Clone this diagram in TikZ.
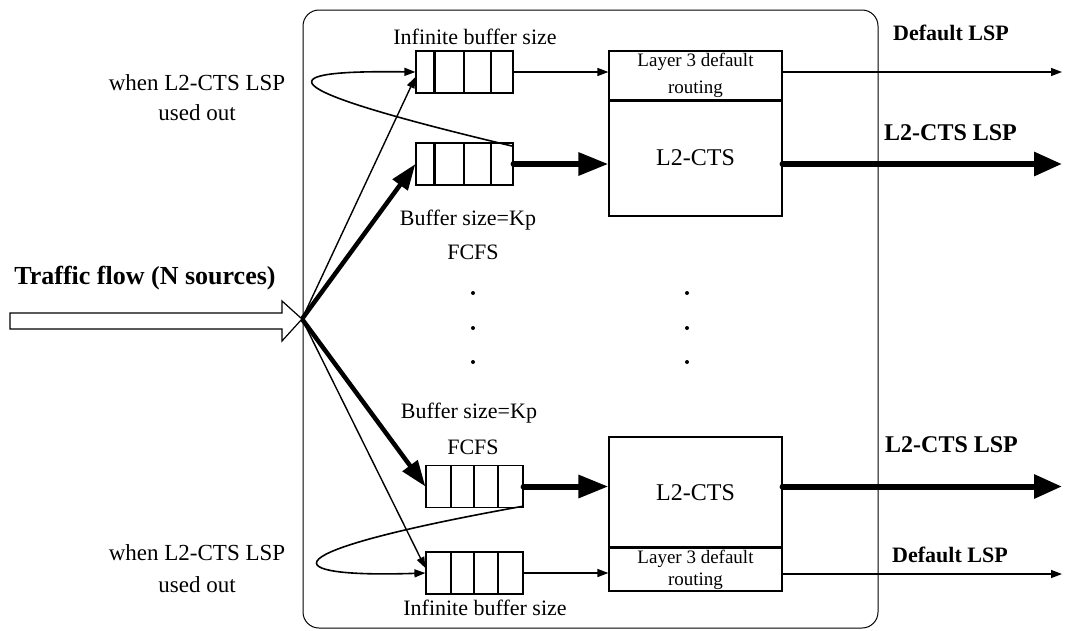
\documentclass[tikz,border=0pt]{standalone}
\usepackage{fontspec}
\setmainfont{Liberation Serif}
\usetikzlibrary{arrows.meta,calc}
\begin{document}
\begin{tikzpicture}[x=1pt,y=-1pt,
  txt/.style={font=\fontsize{22}{30}\selectfont, inner sep=0pt, align=center},
  btxt/.style={font=\fontsize{22}{28}\selectfont\bfseries, inner sep=0pt, anchor=west},
  buf/.style={draw, line width=1.2pt, minimum width=97pt, minimum height=42pt, inner sep=0pt},
  l3box/.style={draw, line width=1.2pt, minimum width=173pt, inner sep=0pt, align=center,
     font=\fontsize{19}{27}\selectfont},
  ctsbox/.style={draw, line width=1.2pt, minimum width=173pt, inner sep=0pt,
     font=\fontsize{24}{28}\selectfont},
  thinarr/.style={line width=1.4pt, -{Triangle[length=11pt,width=8pt]}},
  thickarr/.style={line width=6pt, line cap=round, -{Triangle[length=30pt,width=22pt]}},
  fanthick/.style={line width=4.5pt, -{Triangle[length=26pt,width=18pt]}},
  loop/.style={line width=1.6pt, -{Triangle[length=11pt,width=8pt]}},
  divider/.style={line width=1.8pt}
]
\useasboundingbox (0,0) rectangle (1067,630);

% frame
\node[draw, line width=1pt, rounded corners=16pt, minimum width=575pt, minimum height=618pt, inner sep=0pt] (frame) at (590.5,319) {};

% hollow input arrow
\draw[line width=1.2pt, fill=white] (10,313) -- (282,313) -- (282,301) -- (302,319) -- (282,341) -- (282,329) -- (10,329) -- cycle;
\coordinate (src) at (302,319);
\node[txt, font=\fontsize{26}{30}\selectfont\bfseries] (traffic) at (145,278) {Traffic flow (N sources)};

% buffers
\node[buf] (b1) at (464.5,72) {};
\node[buf] (b2) at (464.5,164) {};
\node[buf] (b3) at (474.5,486.5) {};
\node[buf] (b4) at (474.5,573) {};
\draw[line width=2.6pt] ($(b1.north west)!0.196!(b1.north east)$) -- ($(b1.south west)!0.196!(b1.south east)$);
\draw[line width=2.6pt] ($(b2.north west)!0.196!(b2.north east)$) -- ($(b2.south west)!0.196!(b2.south east)$);
\foreach \b in {b1,b2}{
  \foreach \f in {0.495,0.773}{
    \draw[divider] ($(\b.north west)!\f!(\b.north east)$) -- ($(\b.south west)!\f!(\b.south east)$);
  }
}
\foreach \b in {b3,b4}{
  \foreach \f in {0.258,0.495,0.742}{
    \draw[divider] ($(\b.north west)!\f!(\b.north east)$) -- ($(\b.south west)!\f!(\b.south east)$);
  }
}

% buffer labels
\node[txt] (inf1) at (475,37) {Infinite buffer size};
\node[txt] (kp1) at (468,220) {Buffer size=Kp};
\node[txt] (fc1) at (473,252) {FCFS};
\node[txt] (kp2) at (469,413) {Buffer size=Kp};
\node[txt] (fc2) at (473,447) {FCFS};
\node[txt] (inf2) at (485,608) {Infinite buffer size};

% routing boxes
\node[l3box, minimum height=49pt] (l3a) at (695.5,75.5) {Layer 3 default\\routing};
\node[ctsbox, minimum height=116pt] (cts1) at (695.5,158) {L2-CTS};
\node[ctsbox, minimum height=111pt] (cts2) at (695.5,492.5) {L2-CTS};
\node[l3box, minimum height=43pt, font=\fontsize{19}{22}\selectfont] (l3b) at (695.5,569.5) {Layer 3 default\\routing};
\draw[line width=2pt] (l3a.south west) -- (l3a.south east);
\draw[line width=2pt] (l3b.north west) -- (l3b.north east);

% buffer to box arrows
\draw[thinarr] (b1.east) -- (b1.east -| l3a.west);
\draw[thickarr] (b2.east) -- (b2.east -| cts1.west);
\draw[thickarr] (b3.east) -- (b3.east -| cts2.west);
\draw[thinarr] (b4.east) -- (b4.east -| l3b.west);

% outputs
\coordinate (o1) at (1062,72);
\coordinate (o2) at (1062,164);
\coordinate (o3) at (1062,486.5);
\coordinate (o4) at (1062,574);
\draw[thinarr] (o1 -| l3a.east) -- (o1);
\draw[thickarr, -{Triangle[length=28pt,width=23pt]}] (o2 -| cts1.east) -- (o2);
\draw[thickarr, -{Triangle[length=28pt,width=23pt]}] (o3 -| cts2.east) -- (o3);
\draw[thinarr] (o4 -| l3b.east) -- (o4);

\node[btxt] (d1) at (893,33) {Default LSP};
\node[btxt, font=\fontsize{24}{28}\selectfont\bfseries] (c1) at (884,133) {L2-CTS LSP};
\node[btxt, font=\fontsize{24}{28}\selectfont\bfseries] (c2) at (885,445) {L2-CTS LSP};
\node[btxt] (d2) at (892,555) {Default LSP};

% fan out
\draw[thinarr] (src) -- ([yshift=-5pt]b1.west);
\draw[fanthick] (src) -- (b2.west);
\draw[fanthick] (src) -- (b3.west);
\draw[thinarr] (src) -- ([yshift=5pt]b4.west);

% overflow loops
\draw[loop] ([yshift=-4pt]b2.north east) .. controls (255,85) and (275,70) .. (b1.west);
\draw[loop] ([yshift=2pt]b3.south east) .. controls (262,553) and (275,578) .. (b4.west);
\node[txt, font=\fontsize{23}{30}\selectfont] (w1) at (197,83) {when L2-CTS LSP};
\node[txt, font=\fontsize{23}{30}\selectfont] (u1) at (197,113) {used out};
\node[txt, font=\fontsize{23}{30}\selectfont] (w2) at (197,553) {when L2-CTS LSP};
\node[txt, font=\fontsize{23}{30}\selectfont] (u2) at (197,585) {used out};

% ellipsis dots
\foreach \x in {473,687}{
  \foreach \y in {293,328,362}{
    \fill (\x,\y) circle (2pt);
  }
}
\end{tikzpicture}
\end{document}
